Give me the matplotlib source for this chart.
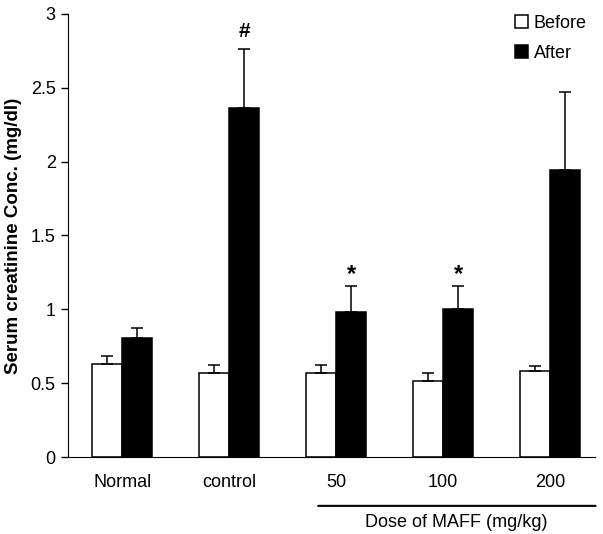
import matplotlib.pyplot as plt
import numpy as np

plt.rcParams['font.family'] = ['Liberation Sans', 'DejaVu Sans']

groups = ['Normal', 'control', '50', '100', '200']
before = [0.63, 0.566, 0.566, 0.518, 0.586]
before_err = [0.054, 0.059, 0.059, 0.048, 0.032]
after = [0.804, 2.365, 0.98, 1.002, 1.945]
after_err = [0.073, 0.395, 0.177, 0.155, 0.523]
marks = ['', '#', '*', '*', '']

fig = plt.figure(figsize=(6.03, 5.34), dpi=100)
ax = fig.add_axes([0.113, 0.144, 0.874, 0.83])

x = np.arange(len(groups))
w = 0.28
ekw = dict(elinewidth=1.1, capthick=1.1, capsize=4, ecolor='black')
ax.bar(x - w / 2, before, w, yerr=[np.zeros(5), before_err], color='white',
       edgecolor='black', linewidth=1.1, error_kw=ekw, label='Before')
ax.bar(x + w / 2, after, w, yerr=[np.zeros(5), after_err], color='black',
       edgecolor='black', linewidth=1.1, error_kw=ekw, label='After')

for i, m in enumerate(marks):
    if m:
        top = after[i] + after_err[i]
        ax.text(x[i] + w / 2, top + (0.08 if m == '*' else 0.12), m,
                ha='center', va='center',
                fontsize=15 if m == '#' else 17, fontweight='bold')

ax.set_xlim(-0.505, 4.42)
ax.set_ylim(0, 3)
ax.set_yticks([0, 0.5, 1, 1.5, 2, 2.5, 3])
ax.set_yticklabels(['0', '0.5', '1', '1.5', '2', '2.5', '3'])
ax.set_xticks(x)
ax.set_xticklabels(groups)
ax.tick_params(axis='x', length=0, pad=12, labelsize=13)
ax.tick_params(axis='y', direction='out', length=5, width=1, labelsize=13, pad=4)
ax.spines['top'].set_visible(False)
ax.spines['right'].set_visible(False)
ax.set_ylabel('Serum creatinine Conc. (mg/dl)', fontsize=13.5, fontweight='bold', labelpad=6)

ax.legend(loc='upper right', bbox_to_anchor=(1.015, 1.035), frameon=False, fontsize=13,
          handlelength=0.75, handleheight=0.75, handletextpad=0.3, labelspacing=0.75)

# dose bracket
ax.annotate('', xy=(1.805, -0.33), xytext=(4.45, -0.33), xycoords='data',
            arrowprops=dict(arrowstyle='-', lw=1.5, color='black'), annotation_clip=False)
ax.text(3.12, -0.44, 'Dose of MAFF (mg/kg)', ha='center', va='center', fontsize=13,
        clip_on=False)

fig.savefig('out.png', dpi=100)
